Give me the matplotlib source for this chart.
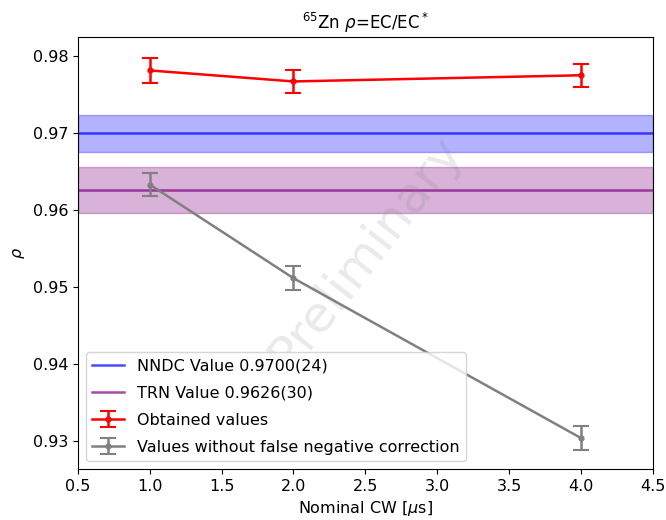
import matplotlib
matplotlib.use('Agg')
import matplotlib.pyplot as plt

# nominal coincidence window (us)
cw = [1.0, 2.0, 4.0]

# corrected ratios
rho = [0.97818, 0.97675, 0.97755]
rho_err = [0.0016, 0.0015, 0.0015]

# ratios without false negative correction
rho_raw = [0.96334, 0.95117, 0.93040]
rho_raw_err = [0.0015, 0.00155, 0.0015]

# reference values
nndc_val, nndc_err = 0.9700, 0.0024
trn_val, trn_err = 0.9626, 0.0030

plt.rcParams['font.size'] = 11.5

fig = plt.figure(figsize=(6.66, 5.2), dpi=100)
ax = fig.add_axes([0.117, 0.098, 0.863, 0.83])

xlo, xhi = 0.5, 4.5
ax.axhline(nndc_val, color='blue', alpha=0.7, lw=1.8, label='NNDC Value 0.9700(24)')
ax.axhspan(nndc_val - nndc_err, nndc_val + nndc_err, color='blue', alpha=0.3, lw=1)
ax.axhline(trn_val, color='purple', alpha=0.7, lw=1.8, label='TRN Value 0.9626(30)')
ax.axhspan(trn_val - trn_err, trn_val + trn_err, color='purple', alpha=0.3, lw=1)

ax.errorbar(cw, rho, yerr=rho_err, color='red', marker='.', ms=7, lw=1.8,
            capsize=6, capthick=1.5, label='Obtained values')
ax.errorbar(cw, rho_raw, yerr=rho_raw_err, color='gray', marker='.', ms=7, lw=1.8,
            capsize=6, capthick=1.5, label='Values without false negative correction')

ax.text(0.5, 0.5, 'Preliminary', transform=ax.transAxes, rotation=52,
        fontsize=36, color='gray', alpha=0.17, ha='center', va='center')

ax.set_xlim(xlo, xhi)
ax.set_ylim(0.92636, 0.98247)
ax.set_yticks([0.93, 0.94, 0.95, 0.96, 0.97, 0.98])
ax.set_xlabel(r'Nominal CW [$\mu$s]')
ax.set_ylabel(r'$\rho$')
ax.set_title(r'$^{65}$Zn $\rho$=EC/EC$^*$', fontsize=12)

ax.legend(loc='lower left', fontsize=11.5, labelspacing=0.75)

fig.savefig('out.png')
